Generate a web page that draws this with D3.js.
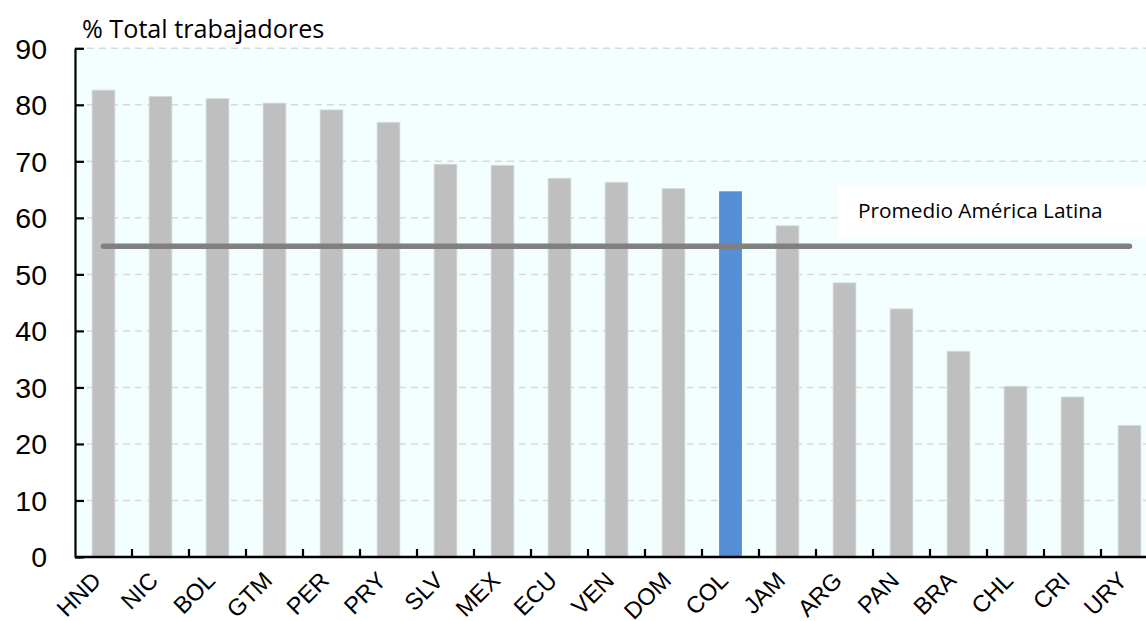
<!DOCTYPE html>
<html><head><meta charset="utf-8">
<script src="https://cdn.jsdelivr.net/npm/d3@7/dist/d3.min.js"></script>
<style>body{margin:0;background:#fff;}svg{display:block;}</style>
</head><body>
<svg id="c" width="1146" height="621"></svg>
<script>
const categories = ["HND","NIC","BOL","GTM","PER","PRY","SLV","MEX","ECU","VEN","DOM","COL","JAM","ARG","PAN","BRA","CHL","CRI","URY"];
const values = [82.6,81.5,81.1,80.3,79.1,76.9,69.5,69.3,67.0,66.3,65.2,64.7,58.6,48.5,43.9,36.4,30.2,28.3,23.3];
const highlight = "COL";
const average = 55;
const yTicks = [0,10,20,30,40,50,60,70,80,90];
const yTitle = "% Total trabajadores";
const legendLabel = "Promedio América Latina";

const svg = d3.select("#c");
const x0 = 75, x1 = 1158, yTop = 48.3, yBot = 557;
const x = d3.scaleBand().domain(categories).range([x0, x1]).paddingInner(0.6).paddingOuter(0.3);
const y = d3.scaleLinear().domain([0, 90]).range([yBot, yTop]);

// plot background
svg.append("rect").attr("x", x0).attr("y", y(90)).attr("width", x1 - x0).attr("height", y(0) - y(90)).attr("fill", "#f3fefe");

// gridlines
svg.append("g").selectAll("line").data(yTicks.filter(d => d > 0)).join("line")
  .attr("x1", x0).attr("x2", 1146).attr("y1", d => y(d)).attr("y2", d => y(d))
  .attr("stroke", "#d9d9d9").attr("stroke-width", 1.5).attr("stroke-dasharray", "7,5");

// bars
svg.append("g").selectAll("rect").data(categories).join("rect")
  .attr("x", d => x(d)).attr("width", x.bandwidth())
  .attr("y", (d, i) => y(values[i])).attr("height", (d, i) => y(0) - y(values[i]))
  .attr("fill", d => d === highlight ? "#558ed5" : "#bfbfbf")
  .attr("stroke", d => d === highlight ? "none" : "#d6dcdc").attr("stroke-width", 0.8);

// legend box
svg.append("rect").attr("x", 838).attr("y", 185).attr("width", 320).attr("height", 52).attr("fill", "#ffffff");
svg.append("text").attr("x", 858).attr("y", 218).text(legendLabel)
  .attr("font-family", "'Open Sans', Lato, sans-serif").attr("font-size", 20.8).attr("fill", "#000");

// average line
const xc = d => x(d) + x.bandwidth() / 2;
svg.append("line").attr("x1", xc(categories[0])).attr("x2", xc(categories[categories.length - 1]))
  .attr("y1", y(average)).attr("y2", y(average))
  .attr("stroke", "#808080").attr("stroke-width", 5.5).attr("stroke-linecap", "round");

// y axis
const yAxis = d3.axisLeft(y).tickValues(yTicks).tickSizeInner(-9).tickSizeOuter(0).tickPadding(28);
const gy = svg.append("g").attr("transform", `translate(${x0},0)`).call(yAxis);
gy.select(".domain").attr("stroke", "#000").attr("stroke-width", 2.2);
gy.selectAll(".tick line").attr("stroke", "#000").attr("stroke-width", 2.2);
gy.selectAll(".tick text").attr("font-family", "'Liberation Sans', Arial, sans-serif").attr("font-size", 28.5).attr("fill", "#000").attr("dy", "0.35em");

// x axis
const xAxis = d3.axisBottom(x).tickSize(0).tickSizeOuter(0).tickFormat(d => d);
const gx = svg.append("g").attr("transform", `translate(0,${yBot})`).call(xAxis);
gx.select(".domain").attr("stroke", "#000").attr("stroke-width", 2.5).attr("d", `M${x0},0H${x1}`);
gx.selectAll(".tick line").remove();
gx.selectAll(".tick text")
  .attr("font-family", "'Liberation Sans', Arial, sans-serif").attr("font-size", 23.5).attr("fill", "#000")
  .attr("text-anchor", "end").attr("dy", 0).attr("y", 0)
  .attr("transform", "translate(-1,25) rotate(-45)");
// x ticks between categories
const boundaries = categories.slice(1).map(d => x(d) - (x.step() - x.bandwidth()) / 2);
svg.append("g").selectAll("line").data(boundaries).join("line")
  .attr("x1", d => d).attr("x2", d => d).attr("y1", yBot).attr("y2", yBot - 8)
  .attr("stroke", "#000").attr("stroke-width", 2.2);

// title
svg.append("text").attr("x", 82).attr("y", 38).text(yTitle)
  .attr("font-family", "'Open Sans', Lato, sans-serif").attr("font-size", 25.2).attr("fill", "#000");
</script>
</body></html>
